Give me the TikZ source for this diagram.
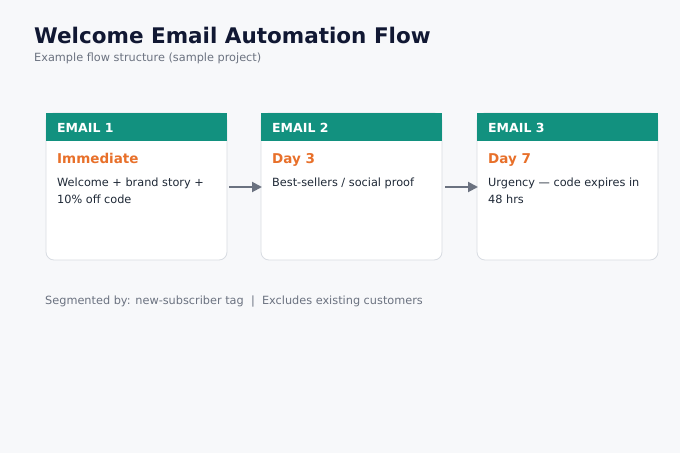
\documentclass[tikz,border=0pt]{standalone}
\usepackage{fontspec}
\setmainfont{DejaVu Sans}
\usetikzlibrary{arrows.meta}
\definecolor{bgc}{HTML}{F7F8FA}
\definecolor{teal}{HTML}{12917F}
\definecolor{orangec}{HTML}{E8702A}
\definecolor{titlec}{HTML}{111833}
\definecolor{bodyc}{HTML}{1F2937}
\definecolor{grayc}{HTML}{6B7280}
\definecolor{borderc}{HTML}{D8DCE2}
\tikzset{
  cardbox/.style={draw=borderc, line width=0.8pt, fill=white, rounded corners=8pt},
  headbox/.style={fill=teal},
  headtxt/.style={anchor=base west, inner sep=0pt, text=white, font=\fontsize{12.5}{15}\selectfont\bfseries},
  daytxt/.style={anchor=base west, inner sep=0pt, text=orangec, font=\fontsize{13.5}{16}\selectfont\bfseries},
  bodytxt/.style={anchor=north west, inner sep=0pt, text=bodyc, align=left, font=\fontsize{11.3}{17}\selectfont},
  flowarrow/.style={draw=grayc, line width=2pt, -{Triangle[length=10pt,width=10pt]}},
}
\begin{document}
\begin{tikzpicture}[x=1pt,y=-1pt]
\fill[bgc] (0,0) rectangle (680,453);
\useasboundingbox (0,0) rectangle (680,453);
\node[anchor=base west, inner sep=0pt, text=titlec, font=\fontsize{21.5}{26}\selectfont\bfseries] (title) at (34,43) {Welcome Email Automation Flow};
\node[anchor=base west, inner sep=0pt, text=grayc, font=\fontsize{11.3}{13}\selectfont] (subtitle) at (34,61) {Example flow structure (sample project)};
% cards
\foreach \i/\x/\day/\body in {1/46/Immediate/{Welcome + brand story +\\10\% off code}, 2/261/Day 3/{Best-sellers / social proof}, 3/477/Day 7/{Urgency — code expires in\\48 hrs}}{
  \draw[cardbox] (\x,113) rectangle ++(181,147);
  \fill[headbox] (\x-0.4,112.6) rectangle ++(181.8,28.4);
  \coordinate (card\i) at (\x,113);
  \node[headtxt] (head\i) at (\x+11,132) {EMAIL \i};
  \node[daytxt] (day\i) at (\x+11,163) {\day};
  \node[bodytxt] (body\i) at (\x+11,177.5) {\body};
}
\coordinate (a1s) at (229,187);
\coordinate (a1e) at (262,187);
\coordinate (a2s) at (445,187);
\coordinate (a2e) at (478,187);
\draw[flowarrow] (a1s) -- (a1e);
\draw[flowarrow] (a2s) -- (a2e);
\node[anchor=base west, inner sep=0pt, text=grayc, font=\fontsize{11.3}{13}\selectfont] (footer) at (45,304) {Segmented by: new-subscriber tag \ | \ Excludes existing customers};
\end{tikzpicture}
\end{document}
